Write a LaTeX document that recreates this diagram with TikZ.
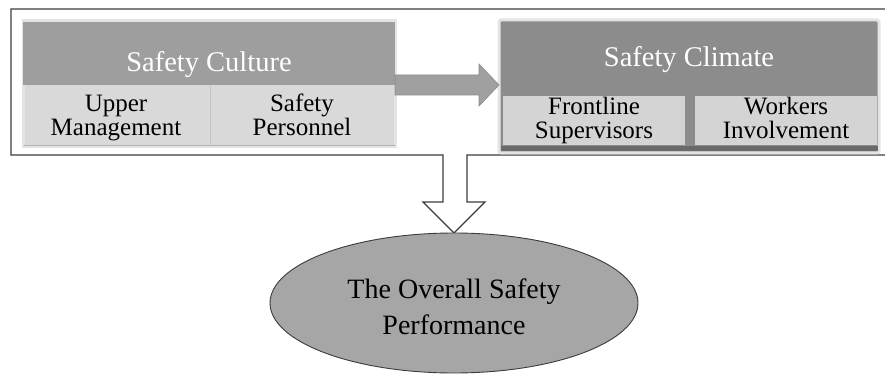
\documentclass[tikz,border=0pt]{standalone}
\usepackage{fontspec}
\setmainfont{Liberation Serif}
\usetikzlibrary{shapes.geometric,calc}
\definecolor{framec}{HTML}{3C3C3C}
\definecolor{glow}{HTML}{E4E4E4}
\definecolor{culturehead}{HTML}{9E9E9E}
\definecolor{culturelow}{HTML}{D9D9D9}
\definecolor{climatehead}{HTML}{8C8C8C}
\definecolor{climatelow}{HTML}{D4D4D4}
\definecolor{climatebar}{HTML}{6A6A6A}
\definecolor{arrowfill}{HTML}{A0A0A0}
\definecolor{arrowline}{HTML}{8A8A8A}
\definecolor{ellfill}{HTML}{A6A6A6}
\begin{document}
\begin{tikzpicture}[x=1pt,y=-1pt,
  boxrect/.style={rectangle,inner sep=0pt,outer sep=0pt},
  headtext/.style={anchor=base,text=white,font=\fontsize{28.5}{30}\selectfont,inner sep=0pt},
  celltext/.style={anchor=base,align=center,text=black,font=\fontsize{25}{24}\selectfont,inner sep=0pt},
  bigtext/.style={anchor=base,align=center,text=black,font=\fontsize{28}{36}\selectfont,inner sep=0pt}]
\useasboundingbox (0,0) rectangle (885,374);
% outer frame joined with the hollow down arrow
\draw[framec,line width=1.2pt,fill=white] (11,9) -- (888,9) -- (888,155) -- (467,155) -- (467,202) -- (485,202) -- (454,233) -- (423,202) -- (443,202) -- (443,155) -- (11,155) -- cycle;

% Safety Culture box
\node[boxrect,draw=glow,line width=3pt,fill=culturelow,minimum width=372pt,minimum height=126pt] (culture) at (209,84) {};
\node[boxrect,fill=culturehead,minimum width=372pt,minimum height=63pt] (cultureHead) at (209,53.5) {};
\draw[culturelow!90!black,line width=0.6pt] (210,86) -- (210,145);
\draw[black!30,line width=0.8pt] (23.5,145.5) -- (394.5,145.5);
\node[headtext] (cultureTitle) at (209,72) {Safety Culture};
\node[celltext] (upper) at (116,136) {Upper\\Management};
\node[celltext] (personnel) at (302,136) {Safety\\Personnel};

% Safety Climate box
\node[boxrect,draw=glow,line width=3pt,fill=climatehead,rounded corners=2pt,minimum width=380pt,minimum height=133pt] (climate) at (689,86.5) {};
\fill[climatelow] (503,96) rectangle (685,145);
\fill[climatelow] (695,96) rectangle (877,145);
\fill[climatebar] (501,146) rectangle (878,151.5);
\node[headtext] (climateTitle) at (689,67) {Safety Climate};
\node[celltext] (frontline) at (594,139) {Frontline\\Supervisors};
\node[celltext] (workers) at (786,139) {Workers\\Involvement};

% block arrow from culture to climate
\coordinate (tip) at (climate.west |- 0,85);
\draw[arrowline,fill=arrowfill,line width=0.6pt]
  ($(culture.east |- tip)+(0,-10)$) -- ($(tip)+(-20,-10)$) -- ($(tip)+(-20,-21)$) -- (tip)
  -- ($(tip)+(-20,21)$) -- ($(tip)+(-20,10)$) -- ($(culture.east |- tip)+(0,10)$) -- cycle;

% overall performance ellipse
\node[ellipse,draw=framec,line width=0.9pt,fill=ellfill,minimum width=368pt,minimum height=140pt,inner sep=0pt] (perf) at (454,303) {};
\node[bigtext] (perfText) at (454,334) {The Overall Safety\\Performance};
\end{tikzpicture}
\end{document}
